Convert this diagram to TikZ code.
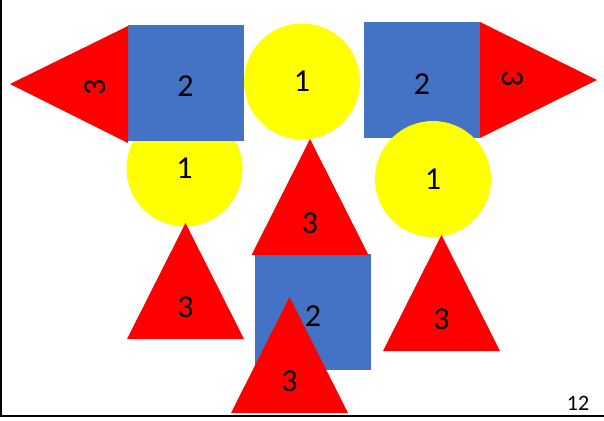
\documentclass[tikz,border=0pt]{standalone}
\usepackage{xcolor}
\usepackage{fontspec}
\setmainfont{Carlito}
\usepackage{tikz}
\usetikzlibrary{positioning,calc}
\definecolor{figazul}{HTML}{4472C4}
\definecolor{figrojo}{HTML}{FF0000}
\definecolor{figamarillo}{HTML}{FFFF00}

\begin{document}
\begin{tikzpicture}[x=1pt, y=-1pt,
    cifra/.style={font=\fontsize{32}{36}\selectfont, inner sep=0pt},
    cuadro/.style={fill=figazul, minimum size=116pt, inner sep=0pt},
    circulo/.style={cifra, circle, fill=figamarillo, minimum size=116pt}]

%%% ---------- MARCO ----------
\useasboundingbox (0,0) rectangle (604,420);

% Triángulo hacia arriba: nombre, x del vértice, y del vértice
\def\triarriba#1#2#3{
    \fill[figrojo] (#2,#3) -- ++(58.5,116) -- ++(-117,0) -- cycle;
    \node[cifra] (#1) at (#2,#3+84) {3};
}

% --- Grupo izquierdo ---
\node[circulo] (circA) at (184.5,168.5) {1};
\node[cuadro]  (cuadA) at (185.5,83) {};
\node[cifra] (dosA) at ([yshift=-3pt]cuadA.center) {2};
\fill[figrojo] (10,84) -- (128,26) -- (128,143) -- cycle;
\node[cifra, rotate=90] (triA) at (95,87) {3};
\triarriba{triB}{185.5}{223}

% --- Grupo central ---
\node[circulo] (circB) at (302,81.5) {1};
\node[cuadro]  (cuadB) at (313,312) {};
\node[cifra] (dosB) at ([yshift=-4pt]cuadB.center) {2};
\triarriba{triC}{310}{139}
\triarriba{triD}{289.5}{297}

% --- Grupo derecho ---
\node[cuadro]  (cuadC) at (422,80) {};
\node[cifra] (dosC) at ([yshift=-4pt]cuadC.center) {2};
\fill[figrojo] (480,22) -- (597,80) -- (480,138) -- cycle;
\node[cifra, rotate=-90] (triE) at (513,79) {3};
\node[circulo] (circC) at (433,179) {1};
\triarriba{triF}{441.5}{235}

% Número de página y bordes
\node[font=\fontsize{22}{26}\selectfont, inner sep=0pt] (pagina) at (578,403) {12};
\draw[line width=1.6pt] (0.8,0) -- (0.8,416);
\draw[line width=2.5pt] (0,416) -- (604,416);

\end{tikzpicture}
\end{document}
